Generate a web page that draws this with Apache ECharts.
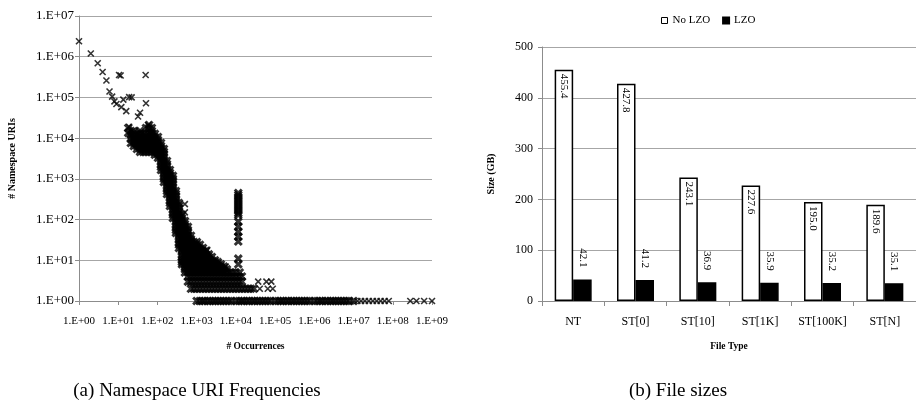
<!DOCTYPE html>
<html>
<head>
<meta charset="utf-8">
<script src="https://cdn.jsdelivr.net/npm/echarts@6/dist/echarts.min.js"></script>
<style>
html,body{margin:0;padding:0;background:#fff;}
#chart{width:916px;height:407px;}
</style>
</head>
<body>
<div id="chart"></div>
<script>
// ---------- DATA ----------
const xTickLabels = ['1.E+00','1.E+01','1.E+02','1.E+03','1.E+04','1.E+05','1.E+06','1.E+07','1.E+08','1.E+09'];
const yTickLabels = ['1.E+00','1.E+01','1.E+02','1.E+03','1.E+04','1.E+05','1.E+06','1.E+07'];

// isolated points [occurrences, #URIs]
const outlierPoints = [
  [1, 2400000], [2, 1200000], [3, 690000], [4, 420000], [5, 260000], [6, 140000],
  [7, 105000], [8, 80000], [9, 69000], [10.5, 355000], [11.5, 345000], [12, 58000],
  [13.5, 88000], [16, 46000], [19, 102000], [22, 100000], [19, 19000], [32, 34000],
  [36, 42000], [50, 355000], [51, 72000], [58, 21000], [500, 240], [500, 150],
  [1860, 18], [5500, 7], [37000, 3], [60000, 3], [80000, 3], [40700, 2], [65000, 2], [87000, 2],
  [1.25e7, 1], [1.55e7, 1], [1.95e7, 1], [2.45e7, 1], [3.1e7, 1], [3.9e7, 1], [4.9e7, 1],
  [6.2e7, 1], [7.9e7, 1], [2.8e8, 1], [4e8, 1], [6.3e8, 1], [1e9, 1]
];

// dense band / descending curve: [occurrences, [#URIs ...]]
const bandColumns = [
  [18, [17800, 13500]],
  [21, [15000, 12000, 9500, 7600]],
  [25, [15000, 12700, 10700, 9000, 7600, 6400]],
  [30, [12700, 10700, 9000, 7600, 6400, 5400]],
  [36, [15000, 12700, 10700, 9000, 7600, 6400, 5400, 4600]],
  [43, [12700, 10700, 9000, 7600, 6400, 5400, 4600]],
  [51, [17800, 12700, 10700, 9000, 7600, 6400, 5400, 4600]],
  [61, [21100, 17800, 12700, 10700, 9000, 7600, 6400, 5400, 4600]],
  [72, [17800, 15000, 12700, 10700, 9000, 7600, 6400, 5400, 4600]],
  [86, [12700, 10700, 9000, 7600, 6400, 5400, 4600, 3900]],
  [103, [10700, 9000, 7600, 6400, 5400, 4600, 3900, 3300]],
  [123, [7600, 6400, 5400, 4600, 3900, 3300, 2750, 2300, 1950, 1650]],
  [146, [5400, 4600, 3900, 3300, 2750, 2300, 1950, 1650, 1400, 1180, 1000, 840]],
  [175, [2750, 2300, 1950, 1650, 1400, 1180, 1000, 840, 710, 600, 500, 425]],
  [208, [1650, 1400, 1180, 1000, 840, 710, 600, 500, 425, 360, 300, 256, 216]],
  [248, [1180, 1000, 840, 710, 600, 500, 425, 360, 300, 256, 216, 182, 154, 130, 109]],
  [296, [500, 425, 360, 300, 256, 216, 182, 154, 130, 109, 92, 78, 66, 55, 47]],
  [353, [256, 216, 182, 154, 130, 109, 92, 78, 66, 55, 47, 40, 33]],
  [421, [130, 109, 92, 78, 66, 55, 47, 40, 33]],
  [502, [92, 78, 66, 55, 47, 40, 33]],
  [598, [66, 55, 47, 40, 33]],
  [714, [40, 33]],
  [11500, [450, 400, 360, 320, 286, 256, 228, 204, 182, 163, 145, 130, 89, 67, 50, 38, 29, 11, 8]]
];

// low-count rows: [#URIs, [occurrences ...]]
const lowRows = [
  [28, [353, 421, 502, 598, 714, 851, 1015]],
  [24, [353, 421, 502, 598, 714, 851, 1015, 1210]],
  [20, [353, 421, 502, 598, 714, 851, 1015, 1210, 1443]],
  [17, [421, 502, 598, 714, 851, 1015, 1210, 1443, 1720]],
  [14, [421, 502, 598, 714, 851, 1015, 1210, 1443, 1720, 2051]],
  [12, [421, 502, 598, 714, 851, 1015, 1210, 1443, 1720, 2051, 2446]],
  [10, [421, 502, 598, 714, 851, 1015, 1210, 1443, 1720, 2051, 2446, 2917]],
  [9, [421, 502, 598, 714, 851, 1015, 1210, 1443, 1720, 2051, 2446, 2917, 3478]],
  [8, [421, 502, 598, 714, 851, 1015, 1210, 1443, 1720, 2051, 2446, 2917, 3478, 4147]],
  [7, [502, 598, 714, 851, 1015, 1210, 1443, 1720, 2051, 2446, 2917, 3478, 4147, 4945]],
  [6, [502, 598, 714, 851, 1015, 1210, 1443, 1720, 2051, 2446, 2917, 3478, 4147, 4945, 5897]],
  [5, [502, 598, 714, 851, 1015, 1210, 1443, 1720, 2051, 2446, 2917, 3478, 4147, 4945, 5897, 7031, 8384, 10000, 12500]],
  [4, [598, 714, 851, 1015, 1210, 1443, 1720, 2051, 2446, 2917, 3478, 4147, 4945, 5897, 7031, 8384, 10000, 11920, 14220]],
  [3, [598, 714, 851, 1015, 1210, 1443, 1720, 2051, 2446, 2917, 3478, 4147, 4945, 5897, 7031, 8384, 10000, 11920, 14220]],
  [2, [714, 851, 1015, 1210, 1443, 1720, 2051, 2446, 2917, 3478, 4147, 4945, 5897, 7031, 8384, 10000, 11920, 14220, 16950, 20210, 24100, 28740]],
  [1, [1000, 1200, 1400, 1600, 1900, 2200, 2600, 3000, 3500, 4100, 4800, 5600, 6600, 7800,
       1e4, 1.2e4, 1.4e4, 1.6e4, 1.9e4, 2.2e4, 2.6e4, 3e4, 3.5e4, 4.1e4, 4.8e4, 5.6e4, 6.6e4, 7.8e4,
       1e5, 1.2e5, 1.4e5, 1.6e5, 1.9e5, 2.2e5, 2.6e5, 3e5, 3.5e5, 4.1e5, 4.8e5, 5.6e5, 6.6e5, 7.8e5,
       1e6, 1.2e6, 1.4e6, 1.6e6, 1.9e6, 2.2e6, 2.6e6, 3e6, 3.5e6, 4.1e6, 4.8e6, 5.6e6, 6.6e6, 7.8e6,
       1e7]]
];

// bar chart
const fileTypes = ['NT', 'ST[0]', 'ST[10]', 'ST[1K]', 'ST[100K]', 'ST[N]'];
const noLzo = [455.4, 427.8, 243.1, 227.6, 195.0, 189.6];
const lzo = [42.1, 41.2, 36.9, 35.9, 35.2, 35.1];

// ---------- BUILD ----------
const densePoints = [];
bandColumns.forEach(([x, ys]) => ys.forEach(y => densePoints.push([x, y])));
lowRows.forEach(([y, xs]) => xs.forEach(x => densePoints.push([x, y])));

const FONT = 'Liberation Serif';
const GRID = '#a6a6a6';
const AXIS = '#8c8c8c';
const CROSS = 'path://M0,0L10,10M10,0L0,10';

const chart = echarts.init(document.getElementById('chart'), null, {renderer: 'canvas'});
chart.setOption({
  animation: false,
  backgroundColor: '#fff',
  title: [
    {text: '(a) Namespace URI Frequencies', left: 197, top: 382, textAlign: 'center', padding: 0,
     textStyle: {fontFamily: FONT, fontSize: 19, fontWeight: 'normal', color: '#000'}},
    {text: '(b) File sizes', left: 678, top: 382, textAlign: 'center', padding: 0,
     textStyle: {fontFamily: FONT, fontSize: 19, fontWeight: 'normal', color: '#000'}}
  ],
  legend: {
    left: 661, top: 15, itemWidth: 6, itemHeight: 6, itemGap: 12, padding: 0,
    textStyle: {fontFamily: FONT, fontSize: 11, color: '#000'},
    data: [
      {name: 'No LZO', icon: 'rect', itemStyle: {color: '#fff', borderColor: '#000', borderWidth: 1}},
      {name: 'LZO', icon: 'rect', itemStyle: {color: '#000'}}
    ]
  },
  grid: [
    {left: 79, top: 16, width: 353, height: 285},
    {left: 542, top: 47, width: 387, height: 254}
  ],
  xAxis: [
    {
      type: 'log', logBase: 10, gridIndex: 0, min: 1, max: 1e9,
      splitLine: {show: false},
      axisLine: {lineStyle: {color: AXIS, width: 1}},
      axisTick: {show: true, length: 4, lineStyle: {color: AXIS}},
      axisLabel: {fontFamily: FONT, fontSize: 11, color: '#000', margin: 15,
        formatter: v => xTickLabels[Math.round(Math.log10(v))]},
      name: '# Occurrences', nameLocation: 'middle', nameGap: 41,
      nameTextStyle: {fontFamily: FONT, fontSize: 9.5, fontWeight: 'bold', color: '#000'}
    },
    {
      type: 'category', gridIndex: 1, data: fileTypes,
      axisLine: {lineStyle: {color: AXIS, width: 1}},
      axisTick: {show: true, length: 5, alignWithLabel: false, lineStyle: {color: AXIS}},
      axisLabel: {interval: 0, fontFamily: FONT, fontSize: 12, color: '#000', margin: 15},
      name: 'File Type', nameLocation: 'middle', nameGap: 41,
      nameTextStyle: {fontFamily: FONT, fontSize: 9.5, fontWeight: 'bold', color: '#000'}
    }
  ],
  yAxis: [
    {
      type: 'log', logBase: 10, gridIndex: 0, min: 1, max: 1e7,
      splitLine: {show: true, lineStyle: {color: GRID, width: 1}},
      axisLine: {show: true, lineStyle: {color: AXIS, width: 1}},
      axisTick: {show: true, length: 4, lineStyle: {color: AXIS}},
      axisLabel: {fontFamily: FONT, fontSize: 13, color: '#000', margin: 5,
        formatter: v => yTickLabels[Math.round(Math.log10(v))]},
      name: '# Namespace URIs', nameLocation: 'middle', nameGap: 62, nameRotate: 90,
      nameTextStyle: {fontFamily: FONT, fontSize: 10, fontWeight: 'bold', color: '#000'}
    },
    {
      type: 'value', gridIndex: 1, min: 0, max: 500, interval: 100,
      splitLine: {show: true, lineStyle: {color: GRID, width: 1}},
      axisLine: {show: true, lineStyle: {color: AXIS, width: 1}},
      axisTick: {show: true, length: 4, lineStyle: {color: AXIS}},
      axisLabel: {fontFamily: FONT, fontSize: 12, color: '#000', margin: 9},
      name: 'Size (GB)', nameLocation: 'middle', nameGap: 46, nameRotate: 90,
      nameTextStyle: {fontFamily: FONT, fontSize: 10, fontWeight: 'bold', color: '#000'}
    }
  ],
  series: [
    {
      type: 'scatter', xAxisIndex: 0, yAxisIndex: 0, clip: false,
      symbol: CROSS, symbolSize: 7,
      itemStyle: {color: 'none', borderColor: '#000', borderWidth: 3},
      emphasis: {disabled: true},
      data: densePoints
    },
    {
      type: 'scatter', xAxisIndex: 0, yAxisIndex: 0, clip: false,
      symbol: CROSS, symbolSize: 6,
      itemStyle: {color: 'none', borderColor: '#000', borderWidth: 1.6},
      emphasis: {disabled: true},
      data: outlierPoints
    },
    {
      type: 'bar', name: 'No LZO', xAxisIndex: 1, yAxisIndex: 1,
      barWidth: 18.5, barGap: '0%',
      itemStyle: {color: '#fff', borderColor: '#000', borderWidth: 1.5},
      label: {show: true, position: 'insideTop', rotate: -90, align: 'left', verticalAlign: 'middle',
        distance: 4, fontFamily: FONT, fontSize: 11, color: '#000',
        formatter: p => p.value.toFixed(1)},
      data: noLzo
    },
    {
      type: 'bar', name: 'LZO', xAxisIndex: 1, yAxisIndex: 1,
      barWidth: 18.5, barGap: '0%',
      itemStyle: {color: '#000', borderColor: '#000', borderWidth: 1.5},
      label: {show: true, position: 'top', rotate: -90, align: 'right', verticalAlign: 'middle',
        distance: 12, fontFamily: FONT, fontSize: 11, color: '#000',
        formatter: p => p.value.toFixed(1)},
      data: lzo
    }
  ]
});
</script>
</body>
</html>
